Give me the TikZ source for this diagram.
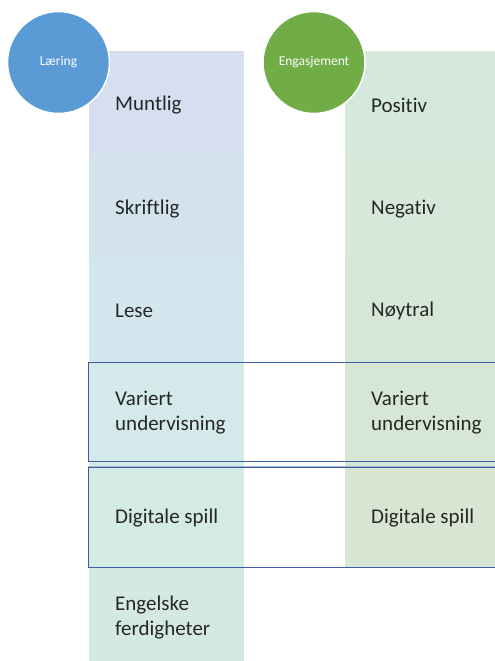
\documentclass[tikz,border=0pt]{standalone}
\usepackage{fontspec}
\setmainfont{Carlito}[Ligatures=NoCommon]
\begin{document}
\begin{tikzpicture}[x=1pt,y=-1pt,
  celltext/.style={anchor=west,align=left,inner sep=0pt,text=black!85,
    font=\fontsize{21}{25}\selectfont},
  head/.style={circle,draw=white,line width=1.5pt,minimum size=102pt,inner sep=0pt,
    text=white,font=\fontsize{13.5}{16}\selectfont},
  frame/.style={draw=framblue,line width=0.9pt}]
\definecolor{framblue}{HTML}{3B5BA5}
\definecolor{lA}{HTML}{D5DFF0}
\definecolor{lB}{HTML}{D3E3EE}
\definecolor{lC}{HTML}{D3E6ED}
\definecolor{lD}{HTML}{D4E9EA}
\definecolor{lE}{HTML}{D4EAE5}
\definecolor{lF}{HTML}{D4EAE0}
\definecolor{rA}{HTML}{D4E8DC}
\definecolor{rB}{HTML}{D5E8DA}
\definecolor{rC}{HTML}{D6E7D8}
\definecolor{rD}{HTML}{D7E7D6}
\definecolor{rE}{HTML}{D9E5D3}
\definecolor{headblue}{HTML}{5B9BD5}
\definecolor{headgreen}{HTML}{70AD47}
\useasboundingbox (0,0) rectangle (495,661);
\clip (0,0) rectangle (495,661);
% left column cells
\fill[lA] (89,51) rectangle (244,155);
\fill[lB] (89,155) rectangle (244,258);
\fill[lC] (89,258) rectangle (244,362);
\fill[lD] (89,362) rectangle (244,465);
\fill[lE] (89,465) rectangle (244,568);
\fill[lF] (89,568) rectangle (244,672);
% right column cells
\fill[rA] (345,51) rectangle (500,155);
\fill[rB] (345,155) rectangle (500,258);
\fill[rC] (345,258) rectangle (500,362);
\fill[rD] (345,362) rectangle (500,465);
\fill[rE] (345,465) rectangle (500,567);
% left texts
\node[celltext] (l1) at (115,105) {Muntlig};
\node[celltext] (l2) at (115,209) {Skriftlig};
\node[celltext] (l3) at (115,311) {Lese};
\node[celltext] (l4) at (115,413) {Variert\\undervisning};
\node[celltext] (l5) at (115,518) {Digitale spill};
\node[celltext] (l6) at (115,618) {Engelske\\ferdigheter};
% right texts
\node[celltext] (r1) at (371,105) {Positiv};
\node[celltext] (r2) at (371,209) {Negativ};
\node[celltext] (r3) at (371,311) {Nøytral};
\node[celltext] (r4) at (371,413) {Variert\\undervisning};
\node[celltext] (r5) at (371,518) {Digitale spill};
% framed rows
\draw[frame] (88,362) rectangle (510,461);
\draw[draw=framblue!45,line width=0.8pt] (88,466) -- (510,466);
\draw[frame] (88,467.5) rectangle (510,567);
% header circles
\node[head,fill=headblue] (learn) at (58.5,62.5) {Læring};
\node[head,fill=headgreen] (engage) at (314,62.5) {Engasjement};
\end{tikzpicture}
\end{document}
